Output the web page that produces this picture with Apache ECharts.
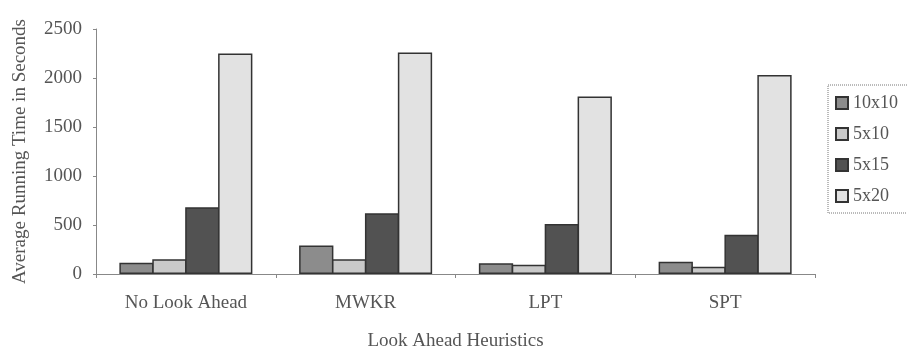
<!DOCTYPE html>
<html>
<head>
<meta charset="utf-8">
<script src="https://cdn.jsdelivr.net/npm/echarts@6/dist/echarts.min.js"></script>
<style>html,body{margin:0;padding:0;background:#fff}#c{width:907px;height:350px}</style>
</head>
<body>
<div id="c"></div>
<script>
const categories = ['No Look Ahead', 'MWKR', 'LPT', 'SPT'];
const seriesNames = ['10x10', '5x10', '5x15', '5x20'];
const s10x10 = [115, 290, 110, 125];
const s5x10 = [150, 150, 95, 75];
const s5x15 = [680, 620, 510, 400];
const s5x20 = [2250, 2260, 1810, 2030];
const yTicks = [0, 500, 1000, 1500, 2000, 2500];
const colors = ['#8c8c8c', '#c9c9c9', '#525252', '#e2e2e2'];

const values = [s10x10, s5x10, s5x15, s5x20];
const font = 'Liberation Serif, DejaVu Serif, serif';
const chart = echarts.init(document.getElementById('c'));
chart.setOption({
  animation: false,
  backgroundColor: '#fff',
  grid: { left: 96, right: 92, top: 29, bottom: 76, containLabel: false, outerBoundsMode: 'none' },
  legend: {
    orient: 'vertical',
    left: 828, top: 85,
    padding: [9, 10, 8, 7],
    icon: 'rect',
    itemWidth: 12, itemHeight: 12, itemGap: 13,
    borderColor: '#777', borderWidth: 1, borderType: 'dotted',
    textStyle: { fontFamily: font, fontSize: 18, color: '#555' },
    data: seriesNames
  },
  xAxis: {
    type: 'category',
    data: categories,
    name: 'Look Ahead Heuristics',
    nameLocation: 'middle',
    nameGap: 58,
    nameTextStyle: { fontFamily: font, fontSize: 19, color: '#555' },
    axisLine: { lineStyle: { color: '#888', width: 1 } },
    axisTick: { show: true, length: 4, lineStyle: { color: '#888' } },
    axisLabel: { fontFamily: font, fontSize: 19, color: '#555', margin: 20 }
  },
  yAxis: {
    type: 'value',
    min: 0, max: 2500, interval: 500,
    name: 'Average Running Time in Seconds',
    nameLocation: 'middle',
    nameGap: 66,
    nameTextStyle: { fontFamily: font, fontSize: 19, color: '#555' },
    axisLine: { show: true, lineStyle: { color: '#888', width: 1 } },
    axisTick: { show: true, length: 3, lineStyle: { color: '#888' } },
    splitLine: { show: false },
    axisLabel: { fontFamily: font, fontSize: 19, color: '#555', margin: 14,
      formatter: v => yTicks.includes(v) ? String(v) : '' }
  },
  series: seriesNames.map((n, i) => ({
    name: n,
    type: 'bar',
    data: values[i],
    barGap: '-4%',
    barCategoryGap: '26%',
    itemStyle: { color: colors[i], borderColor: '#333', borderWidth: 1.5 }
  }))
});
</script>
</body>
</html>
